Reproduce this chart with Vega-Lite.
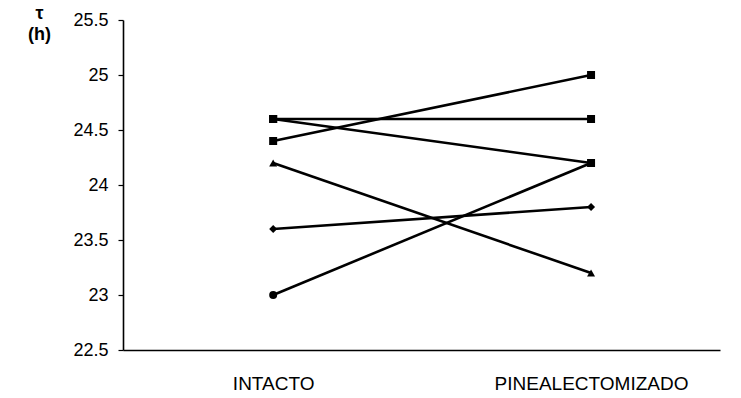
{
  "$schema": "https://vega.github.io/schema/vega-lite/v6.json",
  "width": 597,
  "height": 330,
  "autosize": {"type": "none"},
  "padding": {"left": 123, "top": 20, "right": 21, "bottom": 48},
  "background": "white",
  "config": {
    "view": {"stroke": null},
    "font": "Liberation Sans",
    "axis": {"grid": false, "domainColor": "black", "tickColor": "black", "labelColor": "black", "titleColor": "black", "domainWidth": 1.6, "tickWidth": 1.2}
  },
  "data": {
    "values": [
      {"grupo": "INTACTO", "tau": 24.6, "serie": "A"},
      {"grupo": "PINEALECTOMIZADO", "tau": 24.6, "serie": "A"},
      {"grupo": "INTACTO", "tau": 24.6, "serie": "B"},
      {"grupo": "PINEALECTOMIZADO", "tau": 24.2, "serie": "B"},
      {"grupo": "INTACTO", "tau": 24.4, "serie": "C"},
      {"grupo": "PINEALECTOMIZADO", "tau": 25.0, "serie": "C"},
      {"grupo": "INTACTO", "tau": 24.2, "serie": "D"},
      {"grupo": "PINEALECTOMIZADO", "tau": 23.2, "serie": "D"},
      {"grupo": "INTACTO", "tau": 23.6, "serie": "E"},
      {"grupo": "PINEALECTOMIZADO", "tau": 23.8, "serie": "E"},
      {"grupo": "INTACTO", "tau": 23.0, "serie": "F"},
      {"grupo": "PINEALECTOMIZADO", "tau": 24.2, "serie": "F"}
    ]
  },
  "encoding": {
    "x": {
      "field": "grupo", "type": "nominal", "sort": ["INTACTO", "PINEALECTOMIZADO"],
      "scale": {"type": "point", "padding": 0.439, "align": 0.538},
      "axis": {"title": null, "labelAngle": 0, "ticks": false, "labelPadding": 24, "labelFontSize": 19, "labelLimit": 0}
    },
    "y": {
      "field": "tau", "type": "quantitative",
      "scale": {"domain": [22.5, 25.5], "nice": false, "zero": false},
      "axis": {
        "values": [22.5, 23, 23.5, 24, 24.5, 25, 25.5],
        "format": "~g",
        "tickSize": 5, "labelPadding": 10, "labelFontSize": 18,
        "title": ["τ", "(h)"], "titleAngle": 0, "titleX": -84, "titleY": -16,
        "titleAlign": "center", "titleBaseline": "top", "titleFontSize": 18, "titleFontWeight": "bold", "titleLineHeight": 21
      }
    }
  },
  "layer": [
    {
      "mark": {"type": "line", "color": "black", "strokeWidth": 2.6},
      "encoding": {"detail": {"field": "serie"}}
    },
    {
      "mark": {"type": "point", "filled": true, "color": "black", "opacity": 1, "size": 64},
      "encoding": {
        "shape": {
          "field": "serie", "type": "nominal", "legend": null,
          "scale": {"domain": ["A", "B", "C", "D", "E", "F"], "range": ["square", "square", "square", "triangle-up", "diamond", "circle"]}
        }
      }
    }
  ]
}
